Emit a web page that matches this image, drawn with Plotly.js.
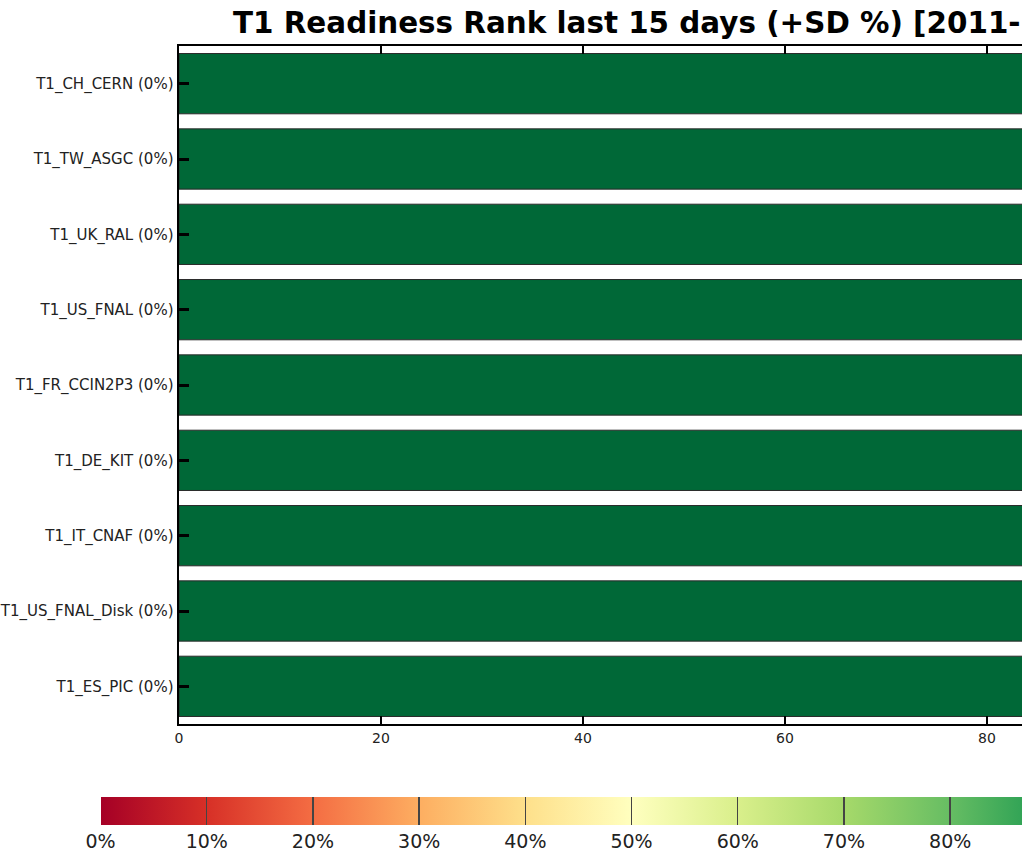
<!DOCTYPE html>
<html>
<head>
<meta charset="utf-8">
<script src="https://cdn.plot.ly/plotly-3.0.1.min.js"></script>
<style>
html,body{margin:0;padding:0;overflow:hidden;background:#fff;}
#chart{width:1265px;height:850px;}
</style>
</head>
<body>
<div id="chart"></div>
<script>
// Data
const sites = ['T1_CH_CERN','T1_TW_ASGC','T1_UK_RAL','T1_US_FNAL','T1_FR_CCIN2P3','T1_DE_KIT','T1_IT_CNAF','T1_US_FNAL_Disk','T1_ES_PIC'];
const readiness = [100,100,100,100,100,100,100,100,100];
const sdPercent = [0,0,0,0,0,0,0,0,0];
const xTicks = [0,20,40,60,80,100];
const titleText = 'T1 Readiness Rank last 15 days (+SD %) [2011-';

const labels = sites.map((s,i)=> s + ' (' + sdPercent[i] + '%)');

const rdylgn = [
  [0.0,'#a50026'],[0.1,'#d73027'],[0.2,'#f46d43'],[0.3,'#fdae61'],[0.4,'#fee08b'],
  [0.5,'#ffffbf'],[0.6,'#d9ef8b'],[0.7,'#a6d96a'],[0.8,'#66bd63'],[0.9,'#1a9850'],[1.0,'#006837']
];

const W = 1265, H = 850;

const trace = {
  type:'bar', orientation:'h',
  y: labels, x: readiness, width: 0.8,
  marker:{
    color: readiness, cmin:0, cmax:100, colorscale: rdylgn, showscale:true,
    line:{color:'#2a2a2a', width:1},
    colorbar:{
      orientation:'h', lenmode:'pixels', len:1062, thickness:28, thicknessmode:'pixels',
      xref:'container', x:791/W, xanchor:'center',
      yref:'container', y:1-797/H, yanchor:'top',
      xpad:0, ypad:0,
      outlinewidth:0,
      tickmode:'linear', tick0:0, dtick:10, ticksuffix:'%',
      ticks:'inside', ticklen:28, tickwidth:1.5, tickcolor:'#444',
      tickfont:{family:'DejaVu Sans', size:19, color:'#222'}
    }
  },
  hoverinfo:'x+y'
};

const layout = {
  width: W, height: H,
  margin:{l:179, r:W-1189, t:46, b:H-724, pad:0},
  paper_bgcolor:'#fff', plot_bgcolor:'#fff',
  showlegend:false,
  title:{
    text: titleText, xref:'container', x:233/W, xanchor:'left',
    yref:'container', y:1-33/H, yanchor:'bottom',
    font:{family:'DejaVu Sans', size:29.4, color:'#000', weight:'bold'}
  },
  xaxis:{
    range:[0,100], tickvals:xTicks, ticks:'inside', ticklen:8, tickwidth:2, tickcolor:'#000',
    showline:true, linewidth:2, linecolor:'#000', mirror:'ticks',
    showgrid:false, zeroline:false,
    tickfont:{family:'DejaVu Sans', size:14, color:'#222'}
  },
  yaxis:{
    type:'category', range:[8.5,-0.5], ticks:'inside', ticklen:10, tickwidth:3, tickcolor:'#000',
    showline:true, linewidth:2.5, linecolor:'#000', mirror:'ticks',
    showgrid:false, zeroline:false,
    tickfont:{family:'DejaVu Sans', size:15, color:'#222'}
  },
  bargap:0.2
};

Plotly.newPlot('chart',[trace],layout,{displayModeBar:false, staticPlot:true});
</script>
</body>
</html>
